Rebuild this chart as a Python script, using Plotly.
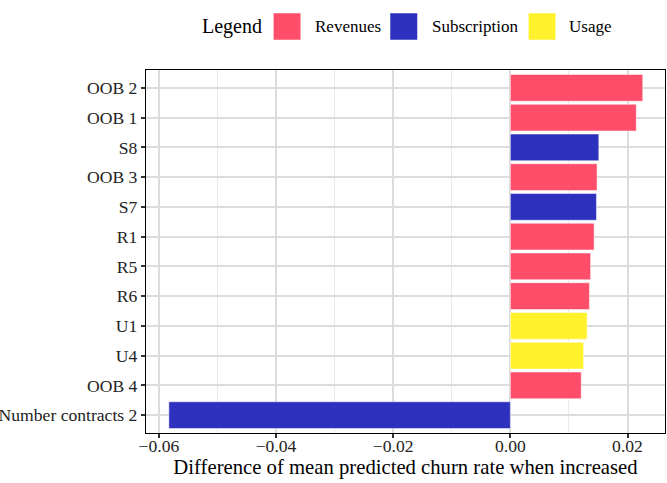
import plotly.graph_objects as go

categories = ["OOB 2", "OOB 1", "S8", "OOB 3", "S7", "R1", "R5", "R6", "U1", "U4", "OOB 4", "Number contracts 2"]
values = [0.0226, 0.0215, 0.0151, 0.0148, 0.0147, 0.0143, 0.0137, 0.0135, 0.0131, 0.0125, 0.0121, -0.0583]
groups = ["Revenues", "Revenues", "Subscription", "Revenues", "Subscription", "Revenues", "Revenues", "Revenues", "Usage", "Usage", "Revenues", "Subscription"]
group_order = ["Revenues", "Subscription", "Usage"]
colors = {"Revenues": "#FF4D6A", "Subscription": "#2E30BE", "Usage": "#FFF22C"}
x_ticks = [-0.06, -0.04, -0.02, 0.00, 0.02]

W, H = 667, 483
L, R, T, B = 146, 2, 70, 50
PW, PH = W - L - R, H - T - B


def px_x(px):
    return (px - L) / PW


def px_y(py):
    return (H - B - py) / PH


fig = go.Figure()
for g in group_order:
    ys = [c for c, gg in zip(categories, groups) if gg == g]
    xs = [v for v, gg in zip(values, groups) if gg == g]
    fig.add_trace(go.Bar(
        x=xs, y=ys, orientation="h", name=g,
        marker=dict(color=colors[g], line=dict(color="rgba(255,255,255,0.5)", width=1)),
        width=0.9, showlegend=False,
    ))

font_family = "Liberation Serif, Times New Roman, serif"

# Legend drawn as keys + labels above the panel (ggplot-style top legend)
legend_keys = [(273.3, "Revenues", 313.3), (390.0, "Subscription", 430.0), (528.3, "Usage", 566.7)]
shapes = []
annotations = [dict(text="Legend", x=px_x(200), y=px_y(26.5), xref="paper", yref="paper",
                    xanchor="left", yanchor="middle", showarrow=False,
                    font=dict(size=20, family=font_family, color="black"))]
for kx, name, tx in legend_keys:
    shapes.append(dict(type="rect", xref="paper", yref="paper",
                       x0=px_x(kx), x1=px_x(kx + 27.5), y0=px_y(13), y1=px_y(40),
                       fillcolor=colors[name], line=dict(color="rgba(255,255,255,0.5)", width=1)))
    annotations.append(dict(text=name, x=px_x(tx), y=px_y(26.5), xref="paper", yref="paper",
                            xanchor="left", yanchor="middle", showarrow=False,
                            font=dict(size=17, family=font_family, color="black")))

fig.update_layout(
    width=W, height=H,
    margin=dict(l=L, r=R, t=T, b=B, autoexpand=False),
    paper_bgcolor="white", plot_bgcolor="white",
    font=dict(family=font_family, size=17, color="black"),
    barmode="overlay",
    showlegend=False,
    shapes=shapes,
    annotations=annotations,
    xaxis=dict(
        range=[-0.0622, 0.0264], automargin=False,
        tickvals=x_ticks, tickformat=".2f",
        showgrid=True, gridcolor="#DCDCDC", gridwidth=1.8,
        minor=dict(dtick=0.01, tick0=0, showgrid=True, gridcolor="#E9E9E9", gridwidth=1.3),
        zeroline=False,
        ticks="outside", ticklen=4, tickwidth=1.5, tickcolor="#333333",
        ticklabelstandoff=-7,
        showline=True, linecolor="black", linewidth=1.3, mirror=True,
        title=dict(text="Difference of mean predicted churn rate when increased",
                   font=dict(size=20.7), standoff=0),
        tickfont=dict(size=17.6, color="#222222"),
    ),
    yaxis=dict(
        categoryorder="array", categoryarray=categories[::-1],
        range=[-0.6, len(categories) - 0.4], automargin=False,
        showgrid=True, gridcolor="#DCDCDC", gridwidth=1.8,
        ticks="outside", ticklen=4, tickwidth=1.5, tickcolor="#333333",
        showline=True, linecolor="black", linewidth=1.3, mirror=True,
        tickfont=dict(size=17.6, color="#222222"),
    ),
)
fig.write_html("out.html", config={"displayModeBar": False},
               post_script="document.body.style.margin='0';")
